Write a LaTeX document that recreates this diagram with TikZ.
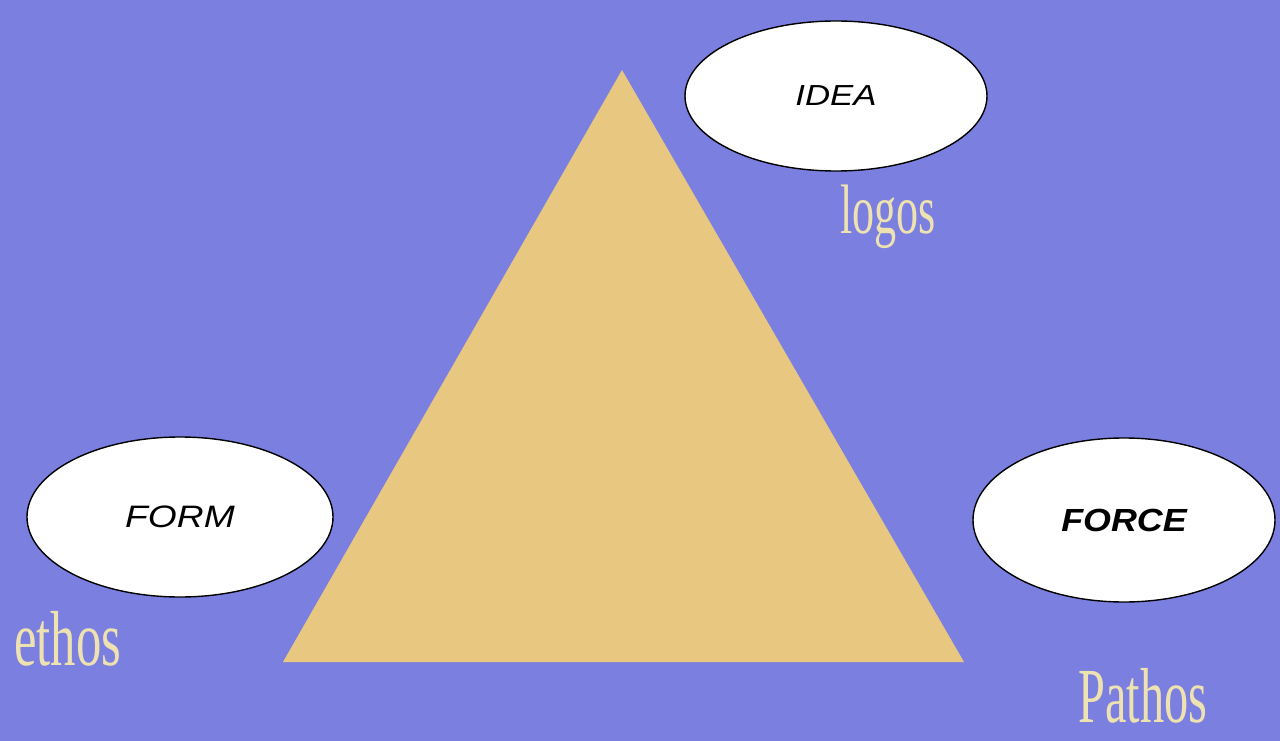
\documentclass[tikz,border=0pt]{standalone}
\usepackage{fontspec}
\usepackage{graphicx}
\usetikzlibrary{shapes.geometric}
\newfontfamily\lblfont{Liberation Serif}
\newfontfamily\bubfont{Liberation Sans}
\definecolor{bgblue}{HTML}{7B7FE0}
\definecolor{tri}{HTML}{E8C880}
\definecolor{lbl}{HTML}{EEE2B0}
\tikzset{
  bubble/.style={ellipse, draw=black, line width=1.4pt, fill=white, inner sep=0pt, text=black},
  greek/.style={inner sep=0pt, text=lbl, anchor=base west},
}
\begin{document}
\begin{tikzpicture}[x=1pt, y=-1pt]
\fill[bgblue] (0,0) rectangle (1280,741);
\useasboundingbox (0,0) rectangle (1280,741);
% triangle
\coordinate (apex) at (622,70);
\coordinate (bl) at (283,662);
\coordinate (br) at (964,662);
\fill[tri] (apex) -- (bl) -- (br) -- cycle;
% ellipses
\node[bubble, minimum width=302pt, minimum height=150pt] (idea) at (836,96)
  {\scalebox{1.2}[1]{\bubfont\itshape\fontsize{29}{31}\selectfont IDEA}};
\node[bubble, minimum width=306pt, minimum height=160pt] (form) at (180,517)
  {\scalebox{1.2}[1]{\bubfont\itshape\fontsize{31}{33}\selectfont FORM}};
\node[bubble, minimum width=302pt, minimum height=164pt] (force) at (1124,520)
  {\scalebox{1.12}[1]{\bubfont\itshape\bfseries\fontsize{32}{34}\selectfont FORCE}};
% labels
\node[greek] (logos) at (840,233)
  {\scalebox{0.63}[1]{\lblfont\fontsize{70}{72}\selectfont logos}};
\node[greek] (ethos) at (14,665)
  {\scalebox{0.65}[1]{\lblfont\fontsize{78}{80}\selectfont ethos}};
\node[greek] (pathos) at (1078,722)
  {\scalebox{0.62}[1]{\lblfont\fontsize{78}{80}\selectfont Pathos}};
\end{tikzpicture}
\end{document}
